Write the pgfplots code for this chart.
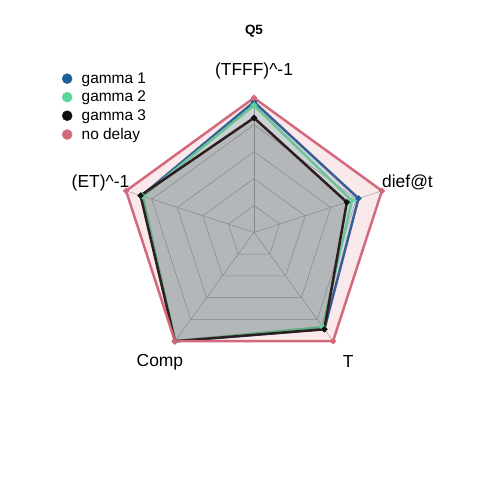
\documentclass[border=0pt]{standalone}
\usepackage{fontspec}
\setmainfont{Liberation Sans}
\usepackage{pgfplots}
\pgfplotsset{compat=1.18}
\usepgfplotslibrary{polar}

\definecolor{gone}{HTML}{1F5F99}
\definecolor{gtwo}{HTML}{5AD69B}
\definecolor{gthree}{HTML}{111111}
\definecolor{nodel}{HTML}{D4697C}

\begin{document}
\begin{tikzpicture}
\begin{polaraxis}[hide axis, scale only axis, width=269bp, height=269bp,
  xmin=0, xmax=360, ymin=0, ymax=1, clip=false,
  xtick=\empty, ytick=\empty,
  every axis plot/.append style={line width=2.5bp, mark=*, mark size=1.5bp}]
% grid
\addplot[gray!70, line width=0.5bp, no marks] coordinates {(90,0.2) (18,0.2) (-54,0.2) (-126,0.2) (162,0.2) (90,0.2)};
\addplot[gray!70, line width=0.5bp, no marks] coordinates {(90,0.4) (18,0.4) (-54,0.4) (-126,0.4) (162,0.4) (90,0.4)};
\addplot[gray!70, line width=0.5bp, no marks] coordinates {(90,0.6) (18,0.6) (-54,0.6) (-126,0.6) (162,0.6) (90,0.6)};
\addplot[gray!70, line width=0.5bp, no marks] coordinates {(90,0.8) (18,0.8) (-54,0.8) (-126,0.8) (162,0.8) (90,0.8)};
\addplot[gray!70, line width=0.5bp, no marks] coordinates {(90,1) (18,1) (-54,1) (-126,1) (162,1) (90,1)};
\addplot[gray!70, line width=0.5bp, no marks] coordinates {(90,0) (90,1)};
\addplot[gray!70, line width=0.5bp, no marks] coordinates {(18,0) (18,1)};
\addplot[gray!70, line width=0.5bp, no marks] coordinates {(-54,0) (-54,1)};
\addplot[gray!70, line width=0.5bp, no marks] coordinates {(-126,0) (-126,1)};
\addplot[gray!70, line width=0.5bp, no marks] coordinates {(162,0) (162,1)};
% series: gamma 1, gamma 2, gamma 3, no delay
\addplot[gone, fill=gone, fill opacity=0.15]
  coordinates {(90,0.97) (18,0.817) (-54,0.89) (-126,1.0) (162,0.88) (90,0.97)};
\addplot[gtwo, fill=gtwo, fill opacity=0.15]
  coordinates {(90,0.945) (18,0.765) (-54,0.87) (-126,1.0) (162,0.87) (90,0.945)};
\addplot[gthree, fill=gthree, fill opacity=0.15]
  coordinates {(90,0.852) (18,0.726) (-54,0.89) (-126,1.0) (162,0.887) (90,0.852)};
\addplot[nodel, fill=nodel, fill opacity=0.15]
  coordinates {(90,1) (18,1) (-54,1) (-126,1) (162,1) (90,1)};
% labels
\node[font=\fontsize{17.5}{20}\selectfont] at (axis cs:90,1.2) {(TFFF)\^{}-1};
\node[font=\fontsize{17.5}{20}\selectfont] at (axis cs:18,1.2) {dief@t};
\node[font=\fontsize{17.5}{20}\selectfont] at (axis cs:-54,1.19) {T};
\node[font=\fontsize{17.5}{20}\selectfont] at (axis cs:-126,1.19) {Comp};
\node[font=\fontsize{17.5}{20}\selectfont] at (axis cs:162,1.2) {(ET)\^{}-1};
\node[font=\fontsize{13.5}{16}\selectfont\bfseries] at (axis cs:90,1.5) {Q5};
\coordinate (c) at (axis cs:0,0);
\end{polaraxis}
% legend in a hidden helper axis
\begin{axis}[hide axis, scale only axis, width=1bp, height=1bp,
  at={(c)}, xshift=-192bp, yshift=160bp, anchor=south west,
  xmin=0, xmax=1, ymin=0, ymax=1,
  legend cell align=left,
  legend style={draw=none, fill=none, at={(0,1)}, anchor=north west,
    font=\fontsize{15.5}{17}\selectfont, row sep=4.3bp, inner sep=0pt,
    nodes={inner sep=1bp},
    /tikz/every odd column/.append style={column sep=8.5bp}}]
\addlegendimage{only marks, mark=*, mark size=5bp, gone}
\addlegendentry{gamma 1}
\addlegendimage{only marks, mark=*, mark size=5bp, gtwo}
\addlegendentry{gamma 2}
\addlegendimage{only marks, mark=*, mark size=5bp, gthree}
\addlegendentry{gamma 3}
\addlegendimage{only marks, mark=*, mark size=5bp, nodel}
\addlegendentry{no delay}
\end{axis}
\pgfresetboundingbox
\path[use as bounding box] (c) ++(-254bp,232.4bp) rectangle ++(480bp,-480bp);
\end{tikzpicture}
\end{document}
